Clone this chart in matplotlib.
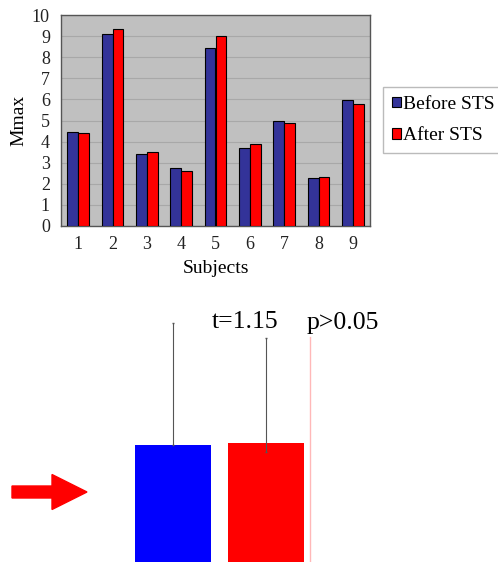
import numpy as np
import matplotlib.pyplot as plt
from matplotlib.patches import FancyArrow

plt.rcParams['font.family'] = ['Liberation Serif', 'DejaVu Serif']

subjects = ['1', '2', '3', '4', '5', '6', '7', '8', '9']
before_sts = [4.44, 9.10, 3.41, 2.73, 8.42, 3.68, 4.96, 2.26, 5.97]
after_sts = [4.39, 9.32, 3.52, 2.62, 9.00, 3.89, 4.90, 2.32, 5.78]

# group summary shown underneath
group_means = [5.00, 5.08]
group_err_up = [4.88, 4.20]
group_err_down = [0.0, 0.35]
group_colors = ['#0000FF', '#FF0000']
t_text = 't=1.15'
p_text = 'p>0.05'

fig = plt.figure(figsize=(4.98, 5.62), dpi=100)

# --- per-subject bar chart ---
ax = fig.add_axes([61 / 498, (562 - 226) / 562, 309 / 498, 211 / 562])
ax.set_facecolor('#C0C0C0')
x = np.arange(len(subjects))
w = 0.32
ax.bar(x - w / 2, before_sts, w, color='#333399', edgecolor='black', linewidth=0.8,
       label='Before STS', zorder=3)
ax.bar(x + w / 2, after_sts, w, color='#FF0000', edgecolor='black', linewidth=0.8,
       label='After STS', zorder=3)
ax.set_xlim(-0.5, len(subjects) - 0.5)
ax.set_ylim(0, 10)
ax.set_yticks(range(0, 11))
ax.set_xticks(x)
ax.set_xticklabels(subjects)
ax.yaxis.grid(True, color='#A8A8A8', linewidth=0.8, zorder=0)
ax.set_axisbelow(True)
ax.tick_params(axis='both', length=0, labelsize=13, colors='#222222')
ax.tick_params(axis='x', pad=7)
ax.tick_params(axis='y', pad=8)
for s in ax.spines.values():
    s.set_color('#555555')
    s.set_linewidth(1.0)
ax.set_xlabel('Subjects', fontsize=14, labelpad=5)
ax.set_ylabel('Mmax', fontsize=14, labelpad=3)

fig.legend(loc='upper left', bbox_to_anchor=(383 / 498, 1 - 87 / 562),
           fontsize=14, frameon=True, fancybox=False, edgecolor='#AAAAAA',
           handlelength=0.45, handleheight=0.45, handletextpad=0.15,
           borderpad=0.45, labelspacing=0.75, borderaxespad=0)

# --- group mean comparison ---
ax2 = fig.add_axes([0, 0, 1, 272 / 562])
ax2.set_axis_off()
ax2.set_xlim(-172.9 / 93, (498 - 172.9) / 93)
ax2.set_ylim((570 - 562) / 25, (570 - 290) / 25)
pos = np.arange(len(group_means))
ax2.bar(pos, group_means, 0.82, color=group_colors, zorder=2)
ax2.errorbar(pos, group_means, yerr=[group_err_down, group_err_up], fmt='none',
             ecolor='#555555', elinewidth=0.8, capsize=1, zorder=3)
ax2.text(0.42, 9.9, t_text, fontsize=18.5, ha='left', va='center')
ax2.text(1.44, 9.9, p_text, fontsize=18.5, ha='left', va='center')
ax2.plot([1.475, 1.475], [0, 9.32], color='#FFB8B8', linewidth=1, zorder=1)

# arrow on the left
arrow = FancyArrow(12 / 498, (562 - 492) / 562, 75 / 498, 0, width=12 / 562,
                   head_width=35 / 562, head_length=35 / 498,
                   length_includes_head=True, color='#FF0000',
                   transform=fig.transFigure, figure=fig)
fig.patches.append(arrow)

fig.savefig('out.png', dpi=100)
